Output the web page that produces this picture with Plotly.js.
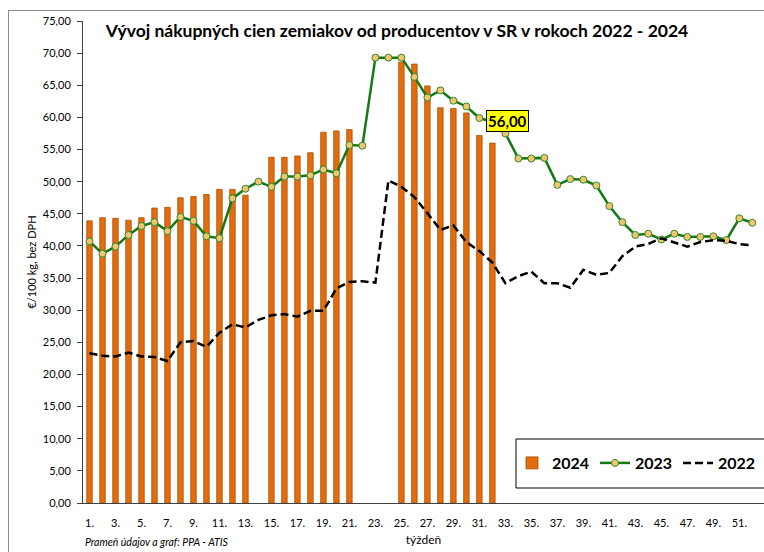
<!DOCTYPE html>
<html>
<head>
<meta charset="utf-8">
<script src="https://cdn.plot.ly/plotly-3.0.1.min.js"></script>
<style>
html,body{margin:0;padding:0;background:#fff;}
#chart{position:absolute;left:0;top:0;width:764px;height:552px;}
#frame{position:absolute;left:8px;top:10px;width:900px;height:700px;border-top:1px solid #8c8c8c;border-left:1px solid #8c8c8c;pointer-events:none;}
</style>
</head>
<body>
<div id="chart"></div>
<div id="frame"></div>
<script>
const weeks = [1,2,3,4,5,6,7,8,9,10,11,12,13,14,15,16,17,18,19,20,21,22,23,24,25,26,
  27,28,29,30,31,32,33,34,35,36,37,38,39,40,41,42,43,44,45,46,47,48,49,50,51,52];

const v2024 = [43.9,44.4,44.3,44.0,44.4,45.9,46.0,47.5,47.7,48.0,48.8,48.8,47.9,null,
  53.8,53.8,54.0,54.5,57.7,57.9,58.1,null,null,null,68.6,68.3,64.9,61.5,61.4,60.7,57.2,56.0,
  null,null,null,null,null,null,null,null,null,null,null,null,null,null,null,null,null,null,null,null];

const v2023 = [40.7,38.8,39.9,41.7,43.1,43.7,42.3,44.5,43.9,41.5,41.2,47.4,48.9,50.0,
  49.2,50.8,50.8,51.0,51.9,51.3,55.7,55.6,69.3,69.3,69.3,66.3,63.1,64.2,62.6,61.7,59.9,59.3,
  57.5,53.6,53.6,53.7,49.5,50.4,50.3,49.4,46.2,43.7,41.7,41.9,41.0,41.9,41.4,41.4,41.5,40.9,44.3,43.6];

const v2022 = [23.3,22.9,22.8,23.4,22.8,22.7,22.1,25.0,25.2,24.3,26.5,27.8,27.3,28.5,
  29.2,29.4,29.0,29.9,29.9,33.4,34.4,34.5,34.3,50.2,49.2,47.6,45.1,42.5,43.2,40.6,39.2,37.4,
  34.2,35.3,36.0,34.2,34.2,33.5,36.3,35.5,35.8,38.4,39.9,40.3,41.2,40.6,39.9,40.6,40.9,40.8,40.3,40.1];

const xTickVals = [1,3,5,7,9,11,13,15,17,19,21,23,25,27,29,31,33,35,37,39,41,43,45,47,49,51];
const xTickText = ["1.","3.","5.","7.","9.","11.","13.","15.","17.","19.","21.","23.","25.",
  "27.","29.","31.","33.","35.","37.","39.","41.","43.","45.","47.","49.","51."];

const yTickVals = [0,5,10,15,20,25,30,35,40,45,50,55,60,65,70,75];

const labelWeek = 32;
const labelValue = 56.0;
const labelText = "56,00";

const titleText = "Vývoj nákupných cien zemiakov od producentov v SR v rokoch 2022 - 2024";
const yTitle = "€/100 kg, bez DPH";
const xTitle = "týždeň";
const sourceText = "Prameň údajov a graf: PPA - ATIS";

const F = "Lato, 'Open Sans', sans-serif";

// plot-area pixel helpers (layout only)
const PL = 83, PR = 764, PT = 21, PB = 503;
const px = v => (v - PL) / (PR - PL);
const py = v => (PB - v) / (PB - PT);

const traces = [
  {
    type: 'bar', name: '2024', x: weeks, y: v2024, width: 0.42,
    marker: {color: '#E46C0A', line: {color: '#A5500C', width: 0.8}},
    hoverinfo: 'x+y'
  },
  {
    type: 'scatter', mode: 'lines+markers', name: '2023', x: weeks, y: v2023,
    line: {color: '#137A13', width: 2.5},
    marker: {symbol: 'circle', size: 7, color: '#F4C46C', line: {color: '#2F8A2F', width: 1}}
  },
  {
    type: 'scatter', mode: 'lines', name: '2022', x: weeks, y: v2022,
    line: {color: '#000000', width: 2.5, dash: '8px,4px'}
  }
];

const layout = {
  width: 764, height: 552,
  margin: {l: PL, r: 764 - PR, t: PT, b: 552 - PB},
  paper_bgcolor: 'rgba(0,0,0,0)', plot_bgcolor: 'rgba(0,0,0,0)',
  separators: ', ',
  showlegend: true,
  font: {family: F, color: '#000'},
  title: {
    text: '<b>' + titleText + '</b>',
    font: {family: F, size: 17.5, color: '#000'},
    x: 397/764, xanchor: 'center', xref: 'container',
    y: 1 - 31/552, yanchor: 'middle', yref: 'container'
  },
  xaxis: {
    type: 'linear', range: [0.5, 52.9],
    tickmode: 'array', tickvals: xTickVals, ticktext: xTickText,
    ticks: '', showgrid: false, zeroline: false,
    showline: true, linecolor: '#404040', linewidth: 1,
    tickfont: {family: F, size: 11, color: '#000'},
    ticklabelstandoff: 10,
    title: {text: xTitle, font: {family: F, size: 12, color: '#000'}, standoff: 7},
    automargin: false
  },
  yaxis: {
    range: [0, 75], tickmode: 'array', tickvals: yTickVals, tickformat: '.2f',
    ticks: 'outside', ticklen: 5, tickcolor: '#404040', tickwidth: 1,
    showgrid: false, zeroline: false,
    showline: true, linecolor: '#404040', linewidth: 1,
    tickfont: {family: F, size: 11, color: '#000'},
    ticklabelstandoff: 4,
    title: {text: yTitle, font: {family: F, size: 11, color: '#000'}, standoff: 3},
    automargin: false
  },
  legend: {
    orientation: 'h', x: px(512), y: py(446), xanchor: 'left', yanchor: 'top',
    borderwidth: 0, bgcolor: 'rgba(0,0,0,0)',
    font: {family: F, size: 16, color: '#000', weight: 'bold'},
    itemwidth: 30, tracegroupgap: 0,
    entrywidth: 38, entrywidthmode: 'pixels'
  },
  shapes: [
    {
      type: 'rect', xref: 'paper', yref: 'paper',
      x0: px(516), x1: px(770), y0: py(488), y1: py(439),
      line: {color: '#000', width: 1}, fillcolor: '#fff', layer: 'below'
    }
  ],
  annotations: [
    {
      x: labelWeek, y: labelValue, xref: 'x', yref: 'y', text: '<b>' + labelText + '</b>',
      showarrow: false, xanchor: 'center', yanchor: 'middle', xshift: 15, yshift: 22,
      bgcolor: '#FFFF00', bordercolor: '#000', borderwidth: 1, borderpad: 1,
      font: {family: F, size: 15, color: '#000'}
    },
    {
      x: 0, y: py(542), xref: 'paper', yref: 'paper', text: '<i>' + sourceText + '</i>',
      showarrow: false, xanchor: 'left', yanchor: 'middle',
      font: {family: F, size: 10.5, color: '#000'}
    }
  ]
};

Plotly.newPlot('chart', traces, layout, {displayModeBar: false, staticPlot: true});
</script>
</body>
</html>
